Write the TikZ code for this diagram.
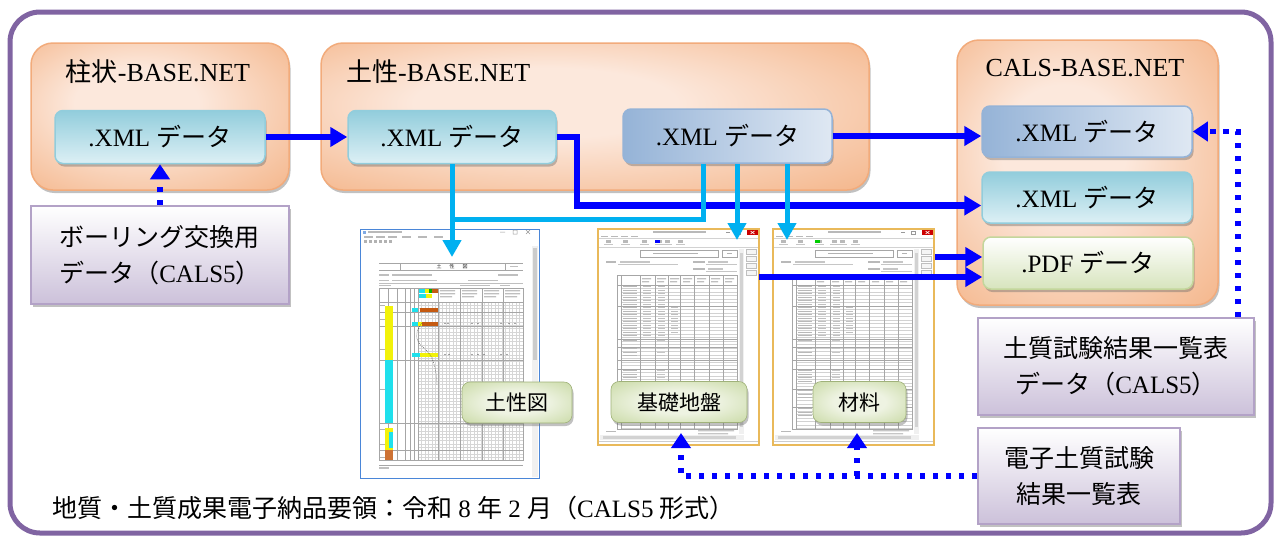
\documentclass[tikz,border=0pt]{standalone}
\usepackage{fontspec}
\setmainfont{Liberation Serif}
\newfontfamily\jp{Noto Sans CJK JP}
\usetikzlibrary{arrows.meta,shadows,calc}
\definecolor{framec}{HTML}{8064A2}
\definecolor{orin}{HTML}{FCE8DC}
\definecolor{orout}{HTML}{F3AE7E}
\definecolor{ordraw}{HTML}{F2AB7B}
\definecolor{cyd}{HTML}{92CDDC}
\definecolor{cyl}{HTML}{DDF0F5}
\definecolor{bld}{HTML}{95B3D7}
\definecolor{bll}{HTML}{DFE8F3}
\definecolor{grd}{HTML}{D7E4BD}
\definecolor{grdraw}{HTML}{C3D69B}
\definecolor{pud}{HTML}{CCC1DA}
\definecolor{pudraw}{HTML}{B3A2C7}
\definecolor{lbin}{HTML}{EEF3E2}
\definecolor{lbout}{HTML}{BCD190}
\definecolor{arrblue}{HTML}{0000FF}
\definecolor{skyb}{HTML}{00B0F0}
\definecolor{winblue}{HTML}{4A86D8}
\definecolor{wingold}{HTML}{E9B95A}
\definecolor{soilor}{HTML}{C55A11}
\definecolor{soilcy}{HTML}{1FE0EC}
\definecolor{soilye}{HTML}{F2F20A}
\pgfdeclareradialshading{platshade}{\pgfpoint{-6bp}{6bp}}{color(0bp)=(orin); color(12bp)=(orin); color(42bp)=(orout); color(50bp)=(orout)}
\pgfdeclareradialshading{tagshade}{\pgfpoint{0bp}{0bp}}{color(0bp)=(lbin); color(14bp)=(lbin); color(44bp)=(lbout); color(50bp)=(lbout)}
\tikzset{
  shadowed/.style={drop shadow={shadow xshift=1.5pt,shadow yshift=-3pt,opacity=0.4,fill=black!60}},
  platform/.style={shadowed, rounded corners=22pt, draw=ordraw, line width=1.5pt, shading=platshade},
  ptitle/.style={font=\fontsize{26}{30}\selectfont, inner sep=0pt},
  databox/.style={shadowed, rounded corners=8pt, line width=1.5pt, minimum width=210pt, minimum height=53pt, font=\fontsize{25}{30}\selectfont, inner sep=0pt},
  cyanbox/.style={databox, draw=cyd, top color=cyd, bottom color=cyl},
  bluebox/.style={databox, draw=bld, left color=bld, right color=bll},
  pdfbox/.style={databox, draw=grdraw, top color=white, bottom color=grd},
  notebox/.style={shadowed, draw=pudraw, line width=2pt, top color=white, bottom color=pud, font=\fontsize{25}{36}\selectfont, inner sep=0pt},
  tag/.style={shadowed, rounded corners=8pt, draw=lbout!85!black, line width=0.6pt, shading=tagshade, minimum height=41pt, inner sep=0pt, font=\jp\fontsize{21}{25}\selectfont},
  solidarrow/.style={arrblue, line width=6.5pt, -{Triangle[length=17pt,width=19pt]}},
  skyline/.style={skyb, line width=5pt},
  skyarrow/.style={skyline, -{Triangle[length=17pt,width=18pt]}},
  dotarrow/.style={arrblue, line width=5.5pt, dash pattern=on 5.5pt off 7.5pt, -{Triangle[length=15pt,width=19pt]}},
  thin grey/.style={gray!70, line width=0.45pt},
}
% window with a table (local coordinates, 161 x 216)
\newcommand\tableshot[2]{%
  \draw[wingold, line width=1.5pt, fill=white] (0,0) rectangle (161,216);
  \fill[gray!55] (55,2.2) rectangle (108,3.8);
  \fill[red!80!black] (149,0.8) rectangle (160,6.2);
  \draw[white, line width=.6pt] (152.5,2)--(156.5,5) (152.5,5)--(156.5,2);
  \draw[gray!80, line width=.5pt] (128,3.5)--(132,3.5) (138,1.8) rectangle (142,5.2);
  \foreach \xx in {3,13,23,33} \fill[gray!55] (\xx,6.8) rectangle ++(7,1.5);
  \draw[gray!35, line width=.4pt] (1,9.5)--(160,9.5) (1,18)--(160,18);
  \foreach \xx in {8,25,44,59,67,80} {\fill[gray!55] (\xx,10.5) rectangle ++(5,3.5);
    \fill[gray!45] (\xx-2,15) rectangle ++(9,1.2);}
  \fill[#2] (#1,10.5) rectangle ++(5,3.5);
  \foreach \yy in {20,27,34,41} \draw[gray!50, fill=gray!8, line width=.4pt] (148,\yy) rectangle ++(10,5.5);
  \fill[gray!12] (141,20) rectangle (146,205);
  \fill[gray!35] (142,24) rectangle (145,198);
  \fill[gray!12] (2,206) rectangle (146,211);
  \fill[gray!35] (5,207) rectangle (138,210);
  \draw[gray!40, line width=.4pt] (1,212.5)--(160,212.5);
  % title and info
  \draw[thin grey] (42,21) rectangle (120,28) (124,21) rectangle (139,28);
  \fill[gray!60] (55,23.8) rectangle (100,25.3);
  \fill[gray!60] (129,23.8) rectangle (134,25.3);
  \fill[gray!55] (8,32.3) rectangle ++(10,1.4);
  \fill[gray!45] (22,32.3) rectangle ++(30,1.4);
  \fill[gray!55] (95,32.3) rectangle ++(12,1.4);
  \fill[gray!45] (110,32.3) rectangle ++(20,1.4);
  \fill[gray!55] (95,39.3) rectangle ++(12,1.4);
  \fill[gray!45] (110,39.3) rectangle ++(15,1.4);
  \draw[gray!45, line width=.35pt] (20,35)--(80,35) (108,35)--(139,35) (108,42)--(139,42);
  % table
  \foreach \yy in {56,59.5,...,200} \draw[gray!35, line width=.3pt] (23,\yy)--(139,\yy);
  \draw[thin grey] (19,46) rectangle (139,200);
  \foreach \xx in {23,42,57,70,82,96,111,125} \draw[thin grey] (\xx,46)--(\xx,200);
  \foreach \yy in {56,77,110,118,131,140,160,178} \draw[thin grey] (19,\yy)--(139,\yy);
  \foreach \xx in {44,59,72,85,99,113,127} \fill[gray!50] (\xx,49) rectangle ++(9,1.3) (\xx,52) rectangle ++(7,1.3);
  \foreach \yy in {57,60.5,...,107} {\fill[gray!55] (25,\yy) rectangle ++(14,1.3);
    \fill[gray!50] (45,\yy) rectangle ++(8,1.3);
    \fill[gray!50] (60,\yy) rectangle ++(7,1.3);}
  \foreach \yy in {78,81.5,...,105} \fill[gray!50] (73,\yy) rectangle ++(7,1.3);
  \foreach \yy in {111,119,122.5,126,141,144.5,148,151.5,161,164.5,168,179,182.5,186} {\fill[gray!55] (25,\yy) rectangle ++(14,1.3);
    \fill[gray!45] (59,\yy) rectangle ++(8,1.3);}
  \fill[gray!55] (8,202) rectangle ++(10,1.3);
  \fill[gray!45] (100,201) rectangle ++(36,1.3) (100,204) rectangle ++(30,1.3);
}
\begin{document}
\begin{tikzpicture}[x=1pt,y=-1pt]
\path[use as bounding box, fill=white] (0,0) rectangle (1276,539);
\draw[framec, line width=5pt, rounded corners=30pt] (10,12) rectangle (1271,533);

% platforms
\node[platform, minimum width=258pt, minimum height=147pt] (pA) at (160,116.5) {};
\node[platform, minimum width=548pt, minimum height=147pt] (pB) at (595,116.5) {};
\node[platform, minimum width=261pt, minimum height=265pt] (pC) at (1087.5,172.5) {};
\node[ptitle] (tA) at (158,72) {{\jp 柱状}-BASE.NET};
\node[ptitle, anchor=west] (tB) at (346,72) {{\jp 土性}-BASE.NET};
\node[ptitle] (tC) at (1085,68) {CALS-BASE.NET};

% data boxes
\node[cyanbox] (xa) at (160,137) {.XML {\jp データ}};
\node[cyanbox, minimum width=208pt] (xb) at (452,137) {.XML {\jp データ}};
\node[bluebox, minimum width=209pt, minimum height=54pt] (xc) at (727.5,136) {.XML {\jp データ}};
\node[bluebox, minimum height=51pt] (xd) at (1087,131.5) {.XML {\jp データ}};
\node[cyanbox, minimum height=51pt] (xe) at (1087,197.5) {.XML {\jp データ}};
\node[pdfbox, minimum height=52pt] (pdf) at (1088,263) {.PDF {\jp データ}};

% note boxes
\node[notebox, minimum width=258pt, minimum height=98pt, align=left] (boring) at (160,255) {{\jp ボーリング交換用}\\{\jp データ（}CALS5{\jp ）}};
\node[notebox, minimum width=276pt, minimum height=97pt, align=center] (dosi) at (1116,366.5) {{\jp 土質試験結果一覧表}\\{\jp データ（}CALS5{\jp ）}};
\node[notebox, minimum width=202pt, minimum height=96pt, align=center] (denshi) at (1079,476) {{\jp 電子土質試験}\\{\jp 結果一覧表}};

% screenshot 1 (soil profile)
\begin{scope}[shift={(360,229)}]
  \draw[winblue, line width=1pt, fill=white] (0,0) rectangle (179,249);
  \fill[winblue!70] (3,1.5) rectangle (6,4.5);
  \fill[gray!55] (8,2.2) rectangle (42,3.8);
  \draw[gray!80, line width=0.5pt] (140,3)--(145,3) (153,1) rectangle (157,5) (166,1)--(170,5) (166,5)--(170,1);
  \foreach \xx in {4,16,28,42,58,74} \fill[gray!55] (\xx,7.3) rectangle ++(9,1.6);
  \foreach \xx in {4,9,14,19,24,29} \fill[gray!60] (\xx,11) rectangle ++(3,3);
  \fill[gray!12] (172,17) rectangle (178,248);
  \fill[gray!40] (173,19) rectangle (177,131);
  \draw[thin grey] (19,34)--(163,34) (19,41)--(163,41) (40,34)--(40,41) (145,34)--(145,41);
  \node[font=\jp\fontsize{5}{5}\selectfont, text=gray!30!black, inner sep=0pt] (s1t) at (92,37.5) {土\hspace{8pt}性\hspace{8pt}図};
  \fill[gray!50] (150,37) rectangle ++(8,1.4);
  \foreach \xx/\ww in {19/10, 32/40, 138/20} \fill[gray!50] (\xx,45) rectangle ++(\ww,1.5);
  \foreach \xx/\ww in {19/10, 32/45, 108/30} \fill[gray!50] (\xx,50.5) rectangle ++(\ww,1.5);
  \draw[gray!50, line width=.4pt] (19,54)--(163,54);
  \foreach \xx/\ww in {19/12, 100/30, 140/10} \fill[gray!50] (\xx,55.5) rectangle ++(\ww,1.5);
  \foreach \yy in {73,76.3,...,231} \draw[gray!32, line width=.25pt] (58,\yy)--(163,\yy);
  \foreach \xx in {61.5,65,...,163} \draw[gray!32, line width=.25pt] (\xx,73)--(\xx,231);
  \draw[thin grey] (19,59) rectangle (163,231) (19,73)--(163,73);
  \foreach \xx in {28,37,45,50,54,58,78,100,122,143} \draw[thin grey] (\xx,59)--(\xx,231);
  \foreach \xx in {80,102,124,145} \fill[gray!50] (\xx,61) rectangle ++(15,1.3) (\xx,64) rectangle ++(15,1.3) (\xx,67) rectangle ++(12,1.3);
  \foreach \yy in {83,97,131,194,221} \draw[thin grey] (19,\yy)--(163,\yy);
  % colours
  \fill[soilye] (25,77) rectangle (33,131);
  \fill[soilcy] (25,131) rectangle (33,194);
  \fill[soilye] (25,199) rectangle (33,221);
  \fill[soilcy] (29,203) rectangle (33,219);
  \fill[soilor!85] (25,221) rectangle (33,231);
  \fill[soilcy] (59,60) rectangle (65,64);
  \fill[soilye] (65,60) rectangle (69,64);
  \fill[green!70!black] (69,60) rectangle (72,64);
  \fill[soilor] (72,60) rectangle (78,64);
  \fill[soilcy] (59,65) rectangle (66,69);
  \fill[soilye] (66,65) rectangle (72,69);
  \fill[soilcy] (52,79) rectangle (58,83);
  \fill[soilor] (60,79) rectangle (78,83);
  \fill[soilcy] (52,93) rectangle (58,97);
  \fill[soilye] (58,93) rectangle (62,97);
  \fill[soilor] (62,93) rectangle (78,97);
  \fill[soilcy] (52,124) rectangle (60,128);
  \fill[soilye] (60,124) rectangle (78,128);
  \foreach \xx in {85,88,112,118,141,149,155} \fill[black!70] (\xx,94.5) circle (0.7pt);
  \foreach \xx in {85,89,112,118,124,141,147} \fill[black!70] (\xx,125.5) circle (0.7pt);
  \draw[black!70, line width=.5pt, dash pattern=on .8pt off 1.2pt] (62,94) .. controls (55,102) and (54,112) .. (64,119) .. controls (72,126) and (76,135) .. (77,156);
  \foreach \yy in {76,90,120,160,200,215,228} \fill[gray!60] (20,\yy) rectangle ++(5,1.2);
  \draw[thin grey] (19,236)--(163,236);
  \fill[gray!50] (19,238) rectangle ++(10,1.5);
\end{scope}

% screenshots 2 and 3 (test result tables)
\begin{scope}[shift={(598,229)}]
  \tableshot{57}{blue}
\end{scope}
\begin{scope}[shift={(773,229)}]
  \tableshot{42}{green!80!black}
\end{scope}

% tags
\node[tag, minimum width=110pt] (lab1) at (517,402.5) {土性図};
\node[tag, minimum width=136pt] (lab2) at (679,402) {基礎地盤};
\node[tag, minimum width=93pt] (lab3) at (859.5,402) {材料};

% footer
\node[anchor=west, inner sep=0pt, font=\fontsize{25}{30}\selectfont] (foot) at (52,508) {{\jp 地質・土質成果電子納品要領：令和} 8 {\jp 年} 2 {\jp 月（}CALS5 {\jp 形式）}};

% connectors: blue
\draw[solidarrow] (xa.east) -- (xb.west);
\draw[solidarrow] (xb.east) -- ++(20,0) |- ([yshift=-8pt]xe.west);
\draw[solidarrow] (xc.east) -- (xc.east -| xd.west);
\coordinate (m3) at (935,257);
\coordinate (m2) at (759,277);
\draw[solidarrow] (m3) -- (m3 -| pdf.west);
\draw[solidarrow] (m2) -- (m2 -| pdf.west);

% connectors: sky blue
\coordinate (t1) at (452,257);
\coordinate (j1) at (703,219);
\coordinate (t2) at (737,240);
\coordinate (t3) at (787,240);
\draw[skyline] (xc.south -| j1) -- (j1) -- (j1 -| xb.south);
\draw[skyarrow] (xb.south) -- (t1);
\draw[skyarrow] (xc.south -| t2) -- (t2);
\draw[skyarrow] (xc.south -| t3) -- (t3);

% connectors: dotted
\draw[dotarrow] (boring.north) -- (xa.south);
\draw[dotarrow] ([xshift=-17pt]dosi.north east) |- (xd.east);
\coordinate (u2) at (681,433);
\coordinate (u3) at (857,433);
\draw[dotarrow] (denshi.west) -| (u2);
\draw[dotarrow] (denshi.west -| u3) -- (u3);
\end{tikzpicture}
\end{document}
